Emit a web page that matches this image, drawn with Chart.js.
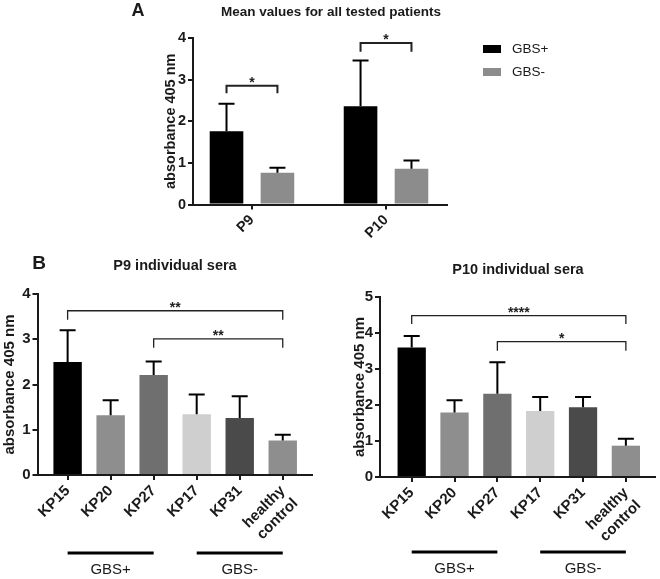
<!DOCTYPE html>
<html>
<head>
<meta charset="utf-8">
<script src="https://cdn.jsdelivr.net/npm/chart.js@4.4.1/dist/chart.umd.min.js"></script>
<style>
    body { margin: 0; background: #fff; width: 660px; height: 579px; position: relative; overflow: hidden; }
    .box { position: absolute; }
</style>
</head>
<body>
<div class="box" style="left:100px;top:0;width:460px;height:250px"><canvas id="chartA"></canvas></div>
<div class="box" style="left:0;top:250px;width:330px;height:329px"><canvas id="chartP9"></canvas></div>
<div class="box" style="left:330px;top:250px;width:330px;height:329px"><canvas id="chartP10"></canvas></div>
<script>
// panel A - means
var peptides = ['P9', 'P10'];
var gbsPlus = [1.76, 2.36];
var gbsPlusErr = [2.42, 3.46];
var gbsMinus = [0.76, 0.86];
var gbsMinusErr = [0.88, 1.06];

// panel B - individual sera
var sera = ['KP15', 'KP20', 'KP27', 'KP17', 'KP31', ['healthy', 'control']];
var seraColors = ['#000000', '#8e8e8e', '#6f6f6f', '#cfcfcf', '#4a4a4a', '#8e8e8e'];
var p9Values = [2.50, 1.32, 2.21, 1.34, 1.26, 0.76];
var p9Err = [3.20, 1.65, 2.51, 1.78, 1.74, 0.89];
var p10Values = [3.60, 1.79, 2.31, 1.83, 1.94, 0.87];
var p10Err = [3.92, 2.13, 3.19, 2.22, 2.22, 1.06];

// significance brackets: [dataset, index] ends, line level, foot level
var bracketsA = [
    { a: [0, 0], b: [1, 0], y: 2.85, foot: 2.67, text: '*' },
    { a: [0, 1], b: [1, 1], y: 3.88, foot: 3.67, text: '*' }
];
var bracketsP9 = [
    { a: [0, 0], b: [0, 5], y: 3.63, foot: 3.43, text: '**' },
    { a: [0, 2], b: [0, 5], y: 3.01, foot: 2.81, text: '**' }
];
var bracketsP10 = [
    { a: [0, 0], b: [0, 5], y: 4.48, foot: 4.25, text: '****' },
    { a: [0, 2], b: [0, 5], y: 3.76, foot: 3.51, text: '*' }
];

var FONT = '"Liberation Sans", Arial, sans-serif';
var INK = '#1a1a1a';

function points(values) {
    return values.map(function (v, i) { return { x: i, y: v }; });
}

function decor(spec) {
    return {
        id: 'decor',
        afterDatasetsDraw: function (chart) {
            var ctx = chart.ctx, ys = chart.scales.y;
            ctx.save();
            // upper error bars
            spec.errors.forEach(function (errs, d) {
                chart.getDatasetMeta(d).data.forEach(function (bar, i) {
                    var top = ys.getPixelForValue(errs[i]);
                    ctx.strokeStyle = '#000';
                    ctx.lineWidth = 2;
                    ctx.beginPath();
                    ctx.moveTo(bar.x, bar.y);
                    ctx.lineTo(bar.x, top);
                    ctx.moveTo(bar.x - 8, top);
                    ctx.lineTo(bar.x + 8, top);
                    ctx.stroke();
                });
            });
            // brackets
            spec.brackets.forEach(function (b) {
                var x1 = chart.getDatasetMeta(b.a[0]).data[b.a[1]].x;
                var x2 = chart.getDatasetMeta(b.b[0]).data[b.b[1]].x;
                var yl = ys.getPixelForValue(b.y), yf = ys.getPixelForValue(b.foot);
                ctx.strokeStyle = '#222';
                ctx.lineWidth = spec.bracketWidth;
                ctx.beginPath();
                ctx.moveTo(x1, yf);
                ctx.lineTo(x1, yl);
                ctx.lineTo(x2, yl);
                ctx.lineTo(x2, yf);
                ctx.stroke();
                ctx.fillStyle = '#222';
                ctx.font = 'bold 14px ' + FONT;
                ctx.textAlign = 'center';
                ctx.textBaseline = 'alphabetic';
                ctx.fillText(b.text, (x1 + x2) / 2, yl + 1);
            });
            ctx.restore();
        },
        afterDraw: function (chart) {
            var ctx = chart.ctx, xs = chart.scales.x;
            ctx.save();
            (spec.groups || []).forEach(function (g) {
                var x1 = xs.getPixelForValue(g.from), x2 = xs.getPixelForValue(g.to);
                ctx.strokeStyle = '#000';
                ctx.lineWidth = 3;
                ctx.beginPath();
                ctx.moveTo(x1, spec.groupY);
                ctx.lineTo(x2, spec.groupY);
                ctx.stroke();
                ctx.fillStyle = INK;
                ctx.font = '15px ' + FONT;
                ctx.textAlign = 'center';
                ctx.textBaseline = 'middle';
                ctx.fillText(g.text, (x1 + x2) / 2, spec.groupY + 17);
            });
            (spec.keys || []).forEach(function (k) {
                ctx.fillStyle = k.color;
                ctx.fillRect(k.x, k.y, 18, 8);
                ctx.fillStyle = INK;
                ctx.font = '13.5px ' + FONT;
                ctx.textAlign = 'left';
                ctx.textBaseline = 'middle';
                ctx.fillText(k.text, k.x + 29, k.y + 4);
            });
            spec.texts.forEach(function (t) {
                ctx.fillStyle = INK;
                ctx.font = t.font;
                ctx.textAlign = 'center';
                ctx.textBaseline = 'middle';
                ctx.fillText(t.text, t.x, t.y);
            });
            ctx.restore();
        }
    };
}

function makeChart(id, spec) {
    var axisGrid = { drawOnChartArea: false, drawTicks: true, tickLength: 5, color: INK, lineWidth: 2 };
    var axisBorder = { display: true, color: INK, width: 2 };
    var tickFont = { family: FONT, size: spec.fontSize, weight: 'bold' };
    return new Chart(document.getElementById(id), {
        type: 'bar',
        data: { datasets: spec.datasets },
        options: {
            responsive: true,
            maintainAspectRatio: false,
            animation: false,
            layout: { padding: spec.padding },
            plugins: { legend: { display: false }, tooltip: { enabled: false } },
            scales: {
                x: {
                    type: 'linear',
                    min: spec.xMin,
                    max: spec.xMax,
                    offset: false,
                    afterBuildTicks: function (s) {
                        s.ticks = spec.labels.map(function (l, i) { return { value: i }; });
                    },
                    afterFit: function (s) { s.height = spec.xHeight; },
                    grid: Object.assign({ offset: false }, axisGrid),
                    border: axisBorder,
                    ticks: {
                        autoSkip: false,
                        minRotation: 45,
                        maxRotation: 45,
                        padding: 2,
                        color: INK,
                        font: tickFont,
                        callback: function (v) { return spec.labels[v]; }
                    }
                },
                y: {
                    min: 0,
                    max: spec.yMax,
                    afterFit: function (s) { s.width = spec.yWidth; },
                    grid: axisGrid,
                    border: axisBorder,
                    ticks: { stepSize: 1, padding: 2, color: INK, font: tickFont },
                    title: {
                        display: true,
                        text: 'absorbance 405 nm',
                        color: INK,
                        padding: { top: 0, bottom: 0 },
                        font: { family: FONT, size: spec.fontSize, weight: 'bold' }
                    }
                }
            }
        },
        plugins: [decor(spec)]
    });
}

makeChart('chartA', {
    labels: peptides,
    datasets: [
        { label: 'GBS+', data: points(gbsPlus), backgroundColor: '#000000', categoryPercentage: 0.76, barPercentage: 0.66 },
        { label: 'GBS-', data: points(gbsMinus), backgroundColor: '#8c8c8c', categoryPercentage: 0.76, barPercentage: 0.66 }
    ],
    errors: [gbsPlusErr, gbsMinusErr],
    brackets: bracketsA,
    bracketWidth: 2,
    fontSize: 14.5,
    xMin: -0.44, xMax: 1.455, yMax: 4,
    yWidth: 31, xHeight: 40,
    padding: { left: 62, right: 113, top: 38, bottom: 5.5 },
    keys: [
        { text: 'GBS+', color: '#000000', x: 383, y: 45 },
        { text: 'GBS-', color: '#8c8c8c', x: 383, y: 68 }
    ],
    texts: [
        { text: 'A', x: 38, y: 11, font: 'bold 18px ' + FONT },
        { text: 'Mean values for all tested patients', x: 231, y: 12, font: 'bold 13.5px ' + FONT }
    ]
});

makeChart('chartP9', {
    labels: sera,
    datasets: [
        { label: 'P9', data: points(p9Values), backgroundColor: seraColors, categoryPercentage: 1, barPercentage: 0.66 }
    ],
    errors: [p9Err],
    brackets: bracketsP9,
    bracketWidth: 1.3,
    fontSize: 15,
    xMin: -0.70, xMax: 5.68, yMax: 4,
    yWidth: 36.5, xHeight: 90,
    padding: { left: 1, right: 18, top: 44, bottom: 14 },
    groups: [
        { text: 'GBS+', from: 0, to: 2 },
        { text: 'GBS-', from: 3, to: 5 }
    ],
    groupY: 303,
    texts: [
        { text: 'B', x: 39, y: 14, font: 'bold 19px ' + FONT },
        { text: 'P9 individual sera', x: 175, y: 16, font: 'bold 14.5px ' + FONT }
    ]
});

makeChart('chartP10', {
    labels: sera,
    datasets: [
        { label: 'P10', data: points(p10Values), backgroundColor: seraColors, categoryPercentage: 1, barPercentage: 0.66 }
    ],
    errors: [p10Err],
    brackets: bracketsP10,
    bracketWidth: 1.3,
    fontSize: 15,
    xMin: -0.74, xMax: 5.68, yMax: 5,
    yWidth: 29.4, xHeight: 90,
    padding: { left: 20.6, right: 5, top: 47, bottom: 12 },
    groups: [
        { text: 'GBS+', from: 0, to: 2 },
        { text: 'GBS-', from: 3, to: 5 }
    ],
    groupY: 302,
    texts: [
        { text: 'P10 individual sera', x: 188, y: 20, font: 'bold 14.5px ' + FONT }
    ]
});
</script>
</body>
</html>
